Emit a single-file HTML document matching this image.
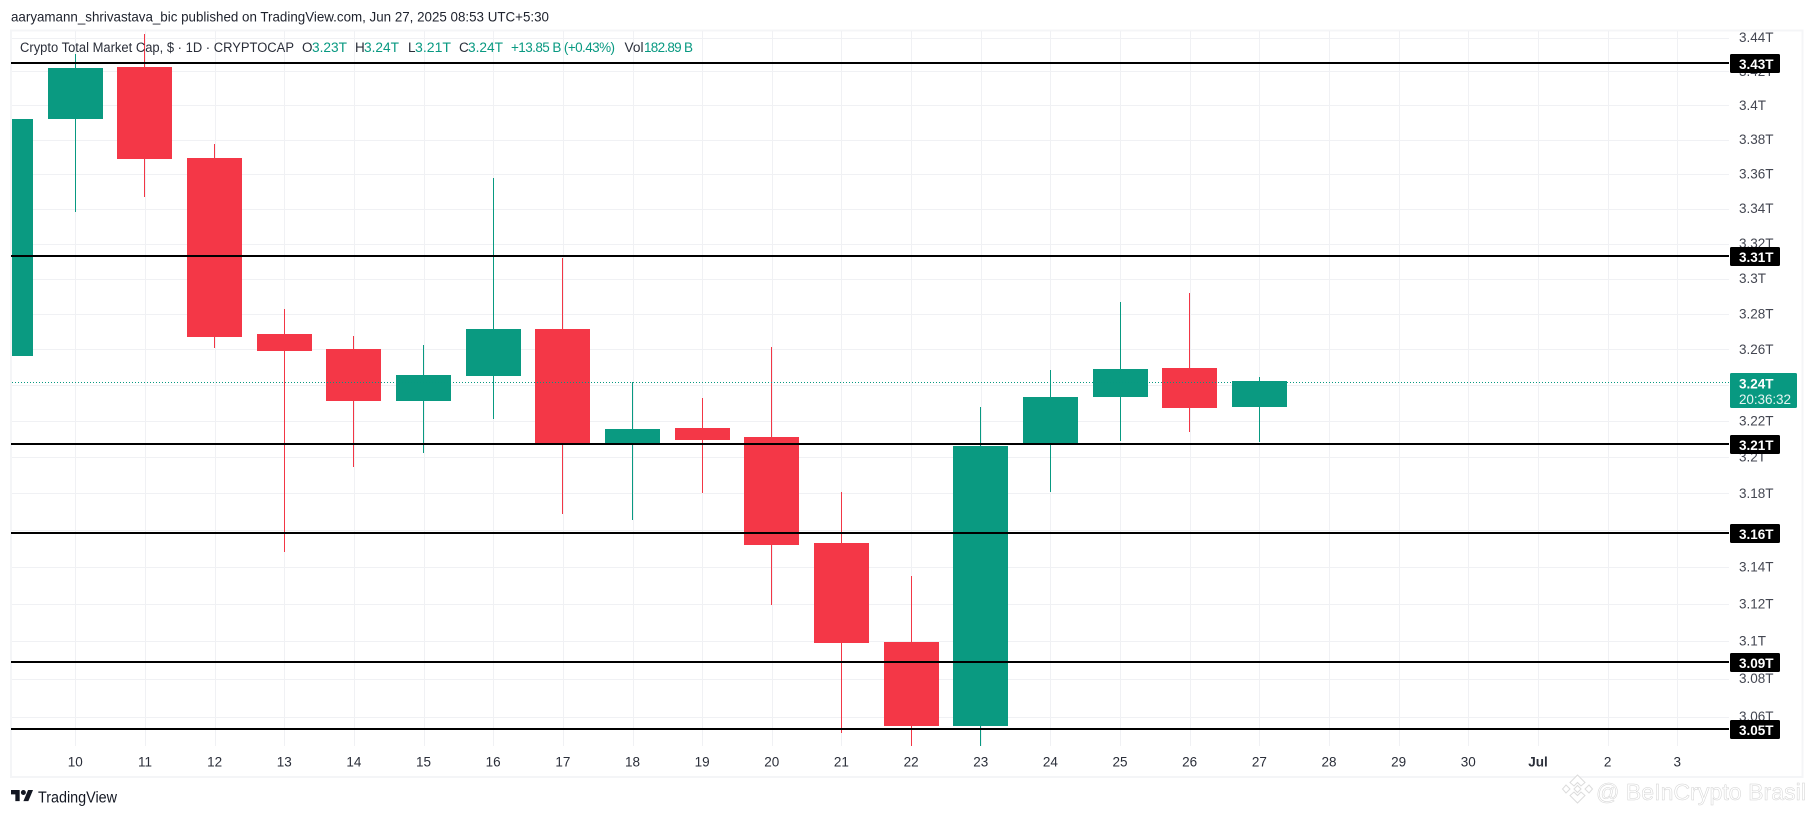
<!DOCTYPE html>
<html lang="en">
<head>
<meta charset="utf-8">
<title>Crypto Total Market Cap daily candlestick chart</title>
<style>
  html, body { margin: 0; padding: 0; background: #fff; width: 1814px; height: 816px; overflow: hidden; }
  svg { display: block; font-family: "Liberation Sans", "DejaVu Sans", sans-serif; }
  .hdr { font-size: 14px; fill: #1e222d; }
  .leg { font-size: 13.5px; fill: #2a2e39; }
  .legv { font-size: 13.5px; fill: #089981; }
  .tick { font-size: 13.5px; fill: #434651; }
  .time { font-size: 13.5px; fill: #2a2e39; text-anchor: middle; }
  .lvl { font-size: 13.5px; fill: #fff; font-weight: bold; }
</style>
</head>
<body>
<svg id="chart" xmlns="http://www.w3.org/2000/svg" width="1814" height="816" viewBox="0 0 1814 816">
  <rect x="0" y="0" width="1814" height="816" fill="#ffffff"/>
  <text class="hdr" x="11" y="21.5" textLength="538" lengthAdjust="spacingAndGlyphs">aaryamann_shrivastava_bic published on TradingView.com, Jun 27, 2025 08:53 UTC+5:30</text>
  <rect x="11" y="30.5" width="1791.5" height="746.5" fill="none" stroke="#f4f5f7" stroke-width="2"/>

  <g id="grid"></g>
  <clipPath id="plot-clip"><rect x="12" y="31" width="1717" height="715"/></clipPath>
  <g id="candles" clip-path="url(#plot-clip)"></g>
  <g id="y-ticks"></g>
  <g id="price-line"></g>
  <g id="x-ticks"></g>
  <g id="levels"></g>

  <g>
    <text class="leg" x="20" y="52" textLength="274" lengthAdjust="spacingAndGlyphs">Crypto Total Market Cap, $ · 1D · CRYPTOCAP</text>
    <text class="leg" x="302" y="52">O</text>
    <text class="legv" x="312" y="52" textLength="35" lengthAdjust="spacingAndGlyphs">3.23T</text>
    <text class="leg" x="355" y="52">H</text>
    <text class="legv" x="364" y="52" textLength="35" lengthAdjust="spacingAndGlyphs">3.24T</text>
    <text class="leg" x="408" y="52">L</text>
    <text class="legv" x="415" y="52" textLength="36" lengthAdjust="spacingAndGlyphs">3.21T</text>
    <text class="leg" x="459" y="52">C</text>
    <text class="legv" x="468" y="52" textLength="35" lengthAdjust="spacingAndGlyphs">3.24T</text>
    <text class="legv" x="511" y="52" textLength="104" lengthAdjust="spacing">+13.85 B (+0.43%)</text>
    <text class="leg" x="624.5" y="52" textLength="19" lengthAdjust="spacingAndGlyphs">Vol</text>
    <text class="legv" x="644" y="52" textLength="49" lengthAdjust="spacing">182.89 B</text>
  </g>

  <g>
    <g transform="translate(11 787.5) scale(0.62)" fill="#131722">
      <path d="M14 22H7V11H0V4h14v18z"/>
      <path d="M28 22h-8l7.5-18h8L28 22z"/>
      <circle cx="20" cy="8" r="4"/>
    </g>
    <text x="38" y="802.5" font-size="15.5" fill="#131722" textLength="79" lengthAdjust="spacingAndGlyphs">TradingView</text>
  </g>

  <g>
    <g fill="#ffffff" stroke="#dcdcdc" stroke-width="1">
      <polygon points="1577.5,775 1585,782.5 1581,786 1577.5,782.5 1574,786 1570,782.5"/>
      <polygon points="1566,785 1570,789 1566,793 1562.5,789"/>
      <polygon points="1589,785 1592.5,789 1589,793 1585,789"/>
      <polygon points="1577.5,785.5 1581,789 1577.5,792.5 1574,789"/>
      <polygon points="1577.5,803 1570,795.5 1574,792 1577.5,795.5 1581,792 1585,795.5"/>
    </g>
    <text x="1596" y="800" font-size="23" fill="#ffffff" stroke="#d2d2d2" stroke-width="0.5" textLength="210" lengthAdjust="spacing">@ BeInCrypto Brasil</text>
  </g>
</svg>

<script>
// ---- Chart data ----
const candleDays = [9, 10, 11, 12, 13, 14, 15, 16, 17, 18, 19, 20, 21, 22, 23, 24, 25, 26, 27];
const opens  = [3.2560, 3.3921, 3.4226, 3.3693, 3.2686, 3.2602, 3.2311, 3.2450, 3.2714, 3.2072, 3.2161, 3.2111, 3.1529, 3.0996, 3.0550, 3.2067, 3.2333, 3.2495, 3.2277];
const highs  = [3.3921, 3.4303, 3.4421, 3.3775, 3.2827, 3.2675, 3.2624, 3.3577, 3.3117, 3.2417, 3.2327, 3.2613, 3.1808, 3.1350, 3.2277, 3.2484, 3.2867, 3.2918, 3.2445];
const lows   = [3.2560, 3.3381, 3.3467, 3.2607, 3.1480, 3.1945, 3.2022, 3.2211, 3.1687, 3.1655, 3.1802, 3.1194, 3.0513, 3.0445, 3.0445, 3.1808, 3.2089, 3.2139, 3.2083];
const closes = [3.3921, 3.4220, 3.3687, 3.2669, 3.2590, 3.2311, 3.2456, 3.2714, 3.2072, 3.2155, 3.2094, 3.1518, 3.0990, 3.0550, 3.2061, 3.2333, 3.2490, 3.2272, 3.2422];

const priceTicks = [3.44, 3.42, 3.40, 3.38, 3.36, 3.34, 3.32, 3.30, 3.28, 3.26, 3.24, 3.22, 3.20, 3.18, 3.16, 3.14, 3.12, 3.10, 3.08, 3.06];
const priceTickLabels = ["3.44T", "3.42T", "3.4T", "3.38T", "3.36T", "3.34T", "3.32T", "3.3T", "3.28T", "3.26T", "3.24T", "3.22T", "3.2T", "3.18T", "3.16T", "3.14T", "3.12T", "3.1T", "3.08T", "3.06T"];

const timeSlots = [10, 11, 12, 13, 14, 15, 16, 17, 18, 19, 20, 21, 22, 23, 24, 25, 26, 27, 28, 29, 30, 31, 32, 33];
const timeLabels = ["10", "11", "12", "13", "14", "15", "16", "17", "18", "19", "20", "21", "22", "23", "24", "25", "26", "27", "28", "29", "30", "Jul", "2", "3"];

const levelPrices = [3.4250, 3.3129, 3.2072, 3.1584, 3.0889, 3.0534];
const levelLabels = ["3.43T", "3.31T", "3.21T", "3.16T", "3.09T", "3.05T"];

const lastPrice = 3.2415;
const lastPriceLabel = "3.24T";
const countdownLabel = "20:36:32";

// ---- Axis functions (log price scale, uniform day scale) ----
function yOf(price) { return 385 - 5800 * Math.log(price / 3.24); }
function xOf(day) { return 75.3 + 69.65 * (day - 10); }

const NS = "http://www.w3.org/2000/svg";
function make(tag, parentId) {
  const node = document.createElementNS(NS, tag);
  document.getElementById(parentId).appendChild(node);
  return node;
}
function setAll(node, attrs) {
  for (const key in attrs) node.setAttribute(key, attrs[key]);
}

// Horizontal grid lines and price labels
priceTicks.forEach(function (price, i) {
  const y = Math.round(yOf(price)) + 0.5;
  const line = make("line", "grid");
  
  
  setAll(line, { x1: 12, x2: 1729, y1: y, y2: y, stroke: "#f0f1f4", "stroke-width": 1 });
  const label = make("text", "y-ticks");
  
  
  setAll(label, { class: "tick", x: 1739, y: yOf(price) + 4.5 });
  label.textContent = priceTickLabels[i];
});

// Vertical grid lines and time labels
timeSlots.forEach(function (slot, i) {
  const x = Math.round(xOf(slot)) + 0.5;
  const line = make("line", "grid");
  
  
  setAll(line, { x1: x, x2: x, y1: 31, y2: 746, stroke: "#f0f1f4", "stroke-width": 1 });
  const label = make("text", "x-ticks");
  
  
  setAll(label, { class: "time", x: xOf(slot), y: 766.5 });
  if (timeLabels[i] === "Jul") label.setAttribute("font-weight", "bold");
  label.textContent = timeLabels[i];
});

// Candles
candleDays.forEach(function (day, i) {
  const up = closes[i] >= opens[i];
  const color = up ? "#089981" : "#f23645";
  const bodyColor = up ? "#0a9a81" : "#f43747";
  const cx = xOf(day);
  const wick = make("rect", "candles");
  
  
  const hy = Math.round(yOf(highs[i]));
  const ly = Math.round(yOf(lows[i]));
  setAll(wick, { x: Math.round(cx - 0.5), y: hy, width: 1, height: ly - hy, fill: color, "shape-rendering": "crispEdges" });
  const body = make("rect", "candles");
  
  
  const ty = Math.round(yOf(Math.max(opens[i], closes[i])));
  const by = Math.round(yOf(Math.min(opens[i], closes[i])));
  setAll(body, { x: Math.round(cx - 27.5), y: ty, width: 55, height: Math.max(1, by - ty), fill: bodyColor, "shape-rendering": "crispEdges" });
});

// Current price dotted line and its label
const priceY = Math.round(yOf(lastPrice)) + 0.5;
const dotted = make("line", "price-line");


setAll(dotted, { x1: 12, x2: 1729, y1: priceY, y2: priceY, stroke: "#089981", "stroke-width": 1, "stroke-dasharray": "1 2" });
const priceBox = make("rect", "price-line");


setAll(priceBox, { x: 1730, y: priceY - 9.5, width: 67, height: 35, rx: 1.5, fill: "#089981" });
const priceText = make("text", "price-line");


setAll(priceText, { x: 1739, y: priceY + 6, "font-size": 13.5, "font-weight": "bold", fill: "#ffffff" });
priceText.textContent = lastPriceLabel;
const countdown = make("text", "price-line");


setAll(countdown, { x: 1739, y: priceY + 21.5, "font-size": 13.5, fill: "#e6f5f2", textLength: 52, lengthAdjust: "spacing" });
countdown.textContent = countdownLabel;

// Horizontal black levels with tags
levelPrices.forEach(function (price, i) {
  const y = yOf(price);
  const line = make("rect", "levels");
  
  
  setAll(line, { x: 11, y: Math.round(y) - 1, width: 1718, height: 2, fill: "#000000", "shape-rendering": "crispEdges" });
  const box = make("rect", "levels");
  
  
  setAll(box, { x: 1730, y: Math.round(y) - 9, width: 50, height: 19, rx: 1.5, fill: "#000000" });
  const label = make("text", "levels");
  
  
  setAll(label, { class: "lvl", x: 1739, y: Math.round(y) + 6 });
  label.textContent = levelLabels[i];
});
</script>
</body>
</html>
